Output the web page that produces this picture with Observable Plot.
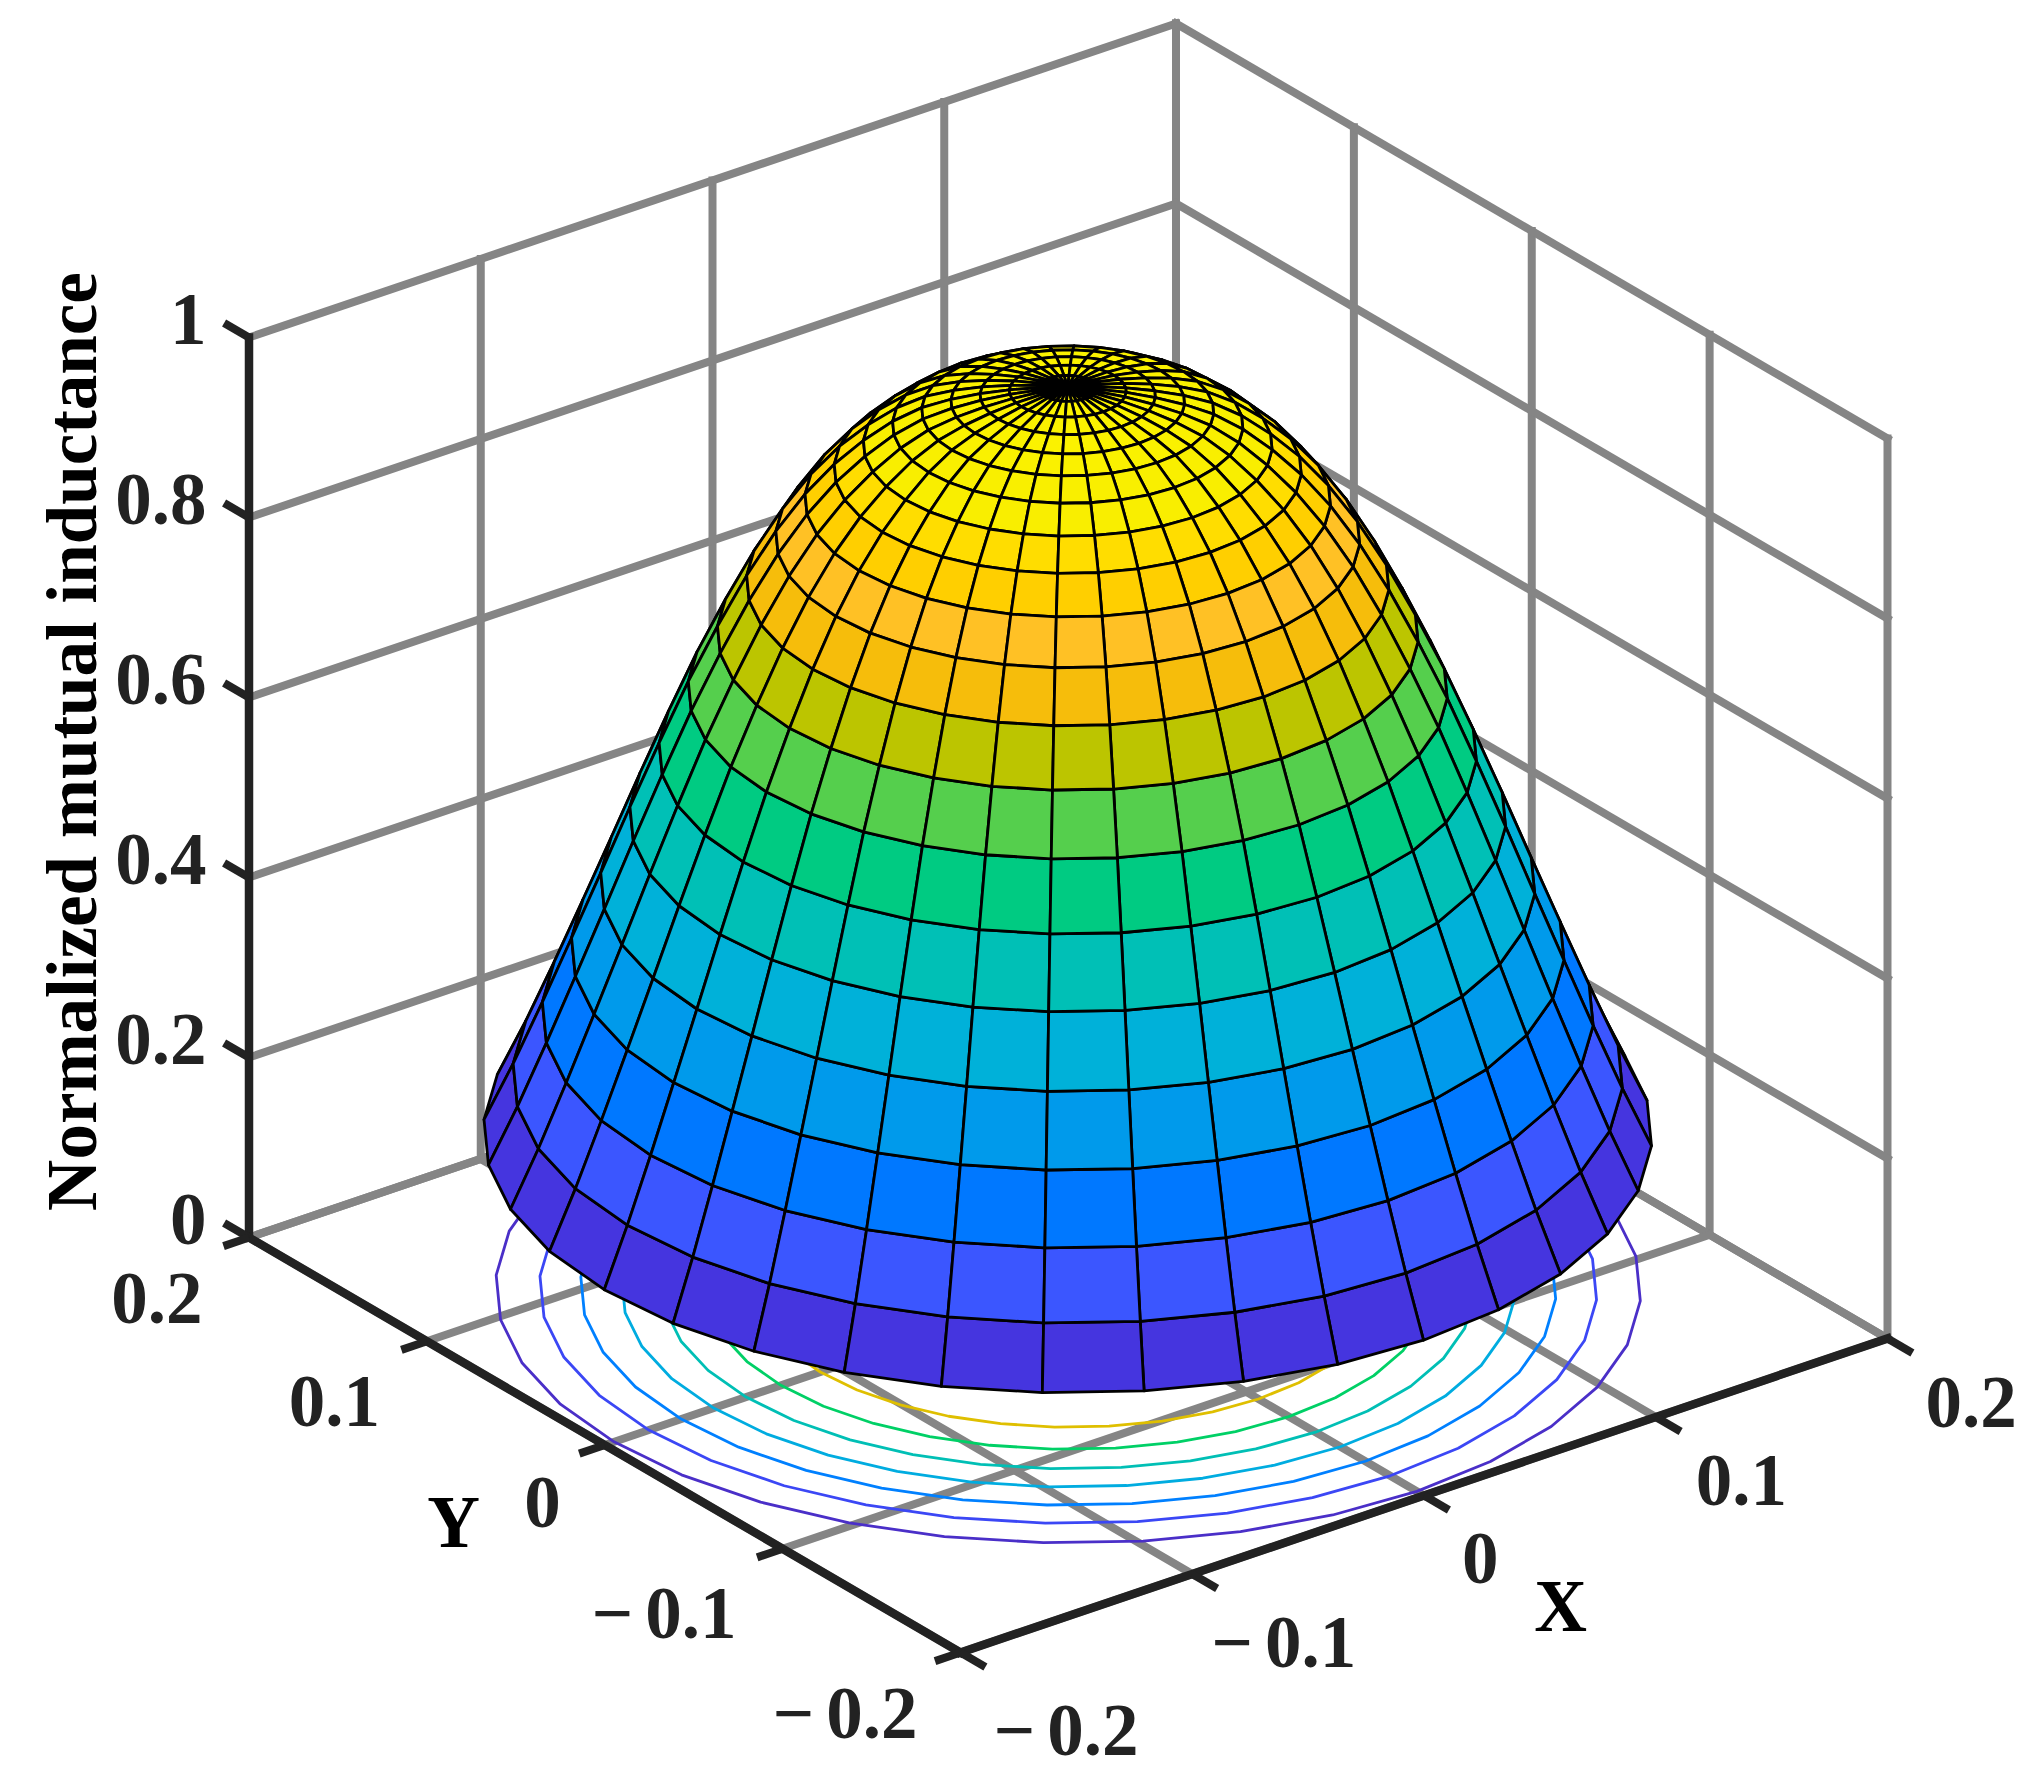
<!DOCTYPE html>
<html>
<head>
<meta charset="utf-8">
<style>html,body{margin:0;padding:0;background:#fff}svg{display:block}</style>
<script src="https://cdn.jsdelivr.net/npm/d3@7"></script>
<script src="https://cdn.jsdelivr.net/npm/@observablehq/plot@0.6"></script>
</head>
<body>
<div id="chart"></div>
<script>
// ---- data ----
const xTicks = [-0.2, -0.1, 0, 0.1, 0.2];
const yTicks = [-0.2, -0.1, 0, 0.1, 0.2];
const zTicks = [0, 0.2, 0.4, 0.6, 0.8, 1];
const xTickLabels = ["−\u200A\u200A0.2", "−\u200A\u200A0.1", "0", "0.1", "0.2"];
const yTickLabels = ["−\u200A\u200A0.2", "−\u200A\u200A0.1", "0", "0.1", "0.2"];
const zTickLabels = ["0", "0.2", "0.4", "0.6", "0.8", "1"];
const angles = [0,10,20,30,40,50,60,70,80,90,100,110,120,130,140,150,160,170,180,190,200,210,220,230,240,250,260,270,280,290,300,310,320,330,340,350];
const ringRadius = [0,0.01,0.02,0.03,0.04,0.05,0.06,0.07,0.08,0.09,0.10,0.11,0.12,0.13,0.14,0.15,0.16,0.17,0.18,0.19,0.20];
const ringHeight = [1,0.999,0.996,0.991,0.984,0.974,0.958,0.936,0.909,0.875,0.833,0.783,0.726,0.664,0.595,0.523,0.449,0.376,0.304,0.235,0.172];
const bandColors = ["#fbf200","#fbf200","#fbf200","#fbf200","#faf100","#f9ef00","#f9ee00","#ffdd00","#ffcf00","#ffc125","#f6bd0b","#bcc500","#55cf4d","#00cb82","#00c0b6","#00b1d9","#009aeb","#0078ff","#3b56ff","#4535df"];
const contourLevels = [0.2,0.3,0.4,0.5,0.6,0.7,0.8];
const contourRadius = [0.196,0.181,0.167,0.153,0.139,0.124,0.107];
const contourColors = ["#4a2fc8","#3b47f5","#0080ff","#00ace0","#00bfb5","#00d066","#dfbf00"];

// ---- orthographic view of the 3-D box ----
const sx = (x, y) => 1067.75 + 2317.5 * x - 1778.75 * y;
const sy = (x, y, z) => 1287.5 - 785 * x - 1037.5 * y - 900 * z;
const depth = (x, y, z) => -1598 * x - 2076 * y + 443 * z;
const rad = (a) => a * Math.PI / 180;
const ptX = (r, a) => r * Math.cos(rad(a));
const ptY = (r, a) => r * Math.sin(rad(a));

// surface quads, painter-sorted
const quads = [];
for (let i = 0; i < ringRadius.length - 1; ++i) {
  for (let j = 0; j < angles.length; ++j) {
    const a0 = angles[j], a1 = angles[j] + 10;
    const r0 = ringRadius[i], r1 = ringRadius[i + 1], z0 = ringHeight[i], z1 = ringHeight[i + 1];
    const rm = (r0 + r1) / 2, am = (a0 + a1) / 2;
    quads.push({band: i, d: depth(ptX(rm, am), ptY(rm, am), (z0 + z1) / 2), r0, r1, z0, z1, a0, a1});
  }
}
quads.sort((p, q) => p.d - q.d);
const quadRows = quads.flatMap((q, id) => [q.a0, q.a1].map((a) => ({
  id, band: q.band,
  x1: sx(ptX(q.r0, a), ptY(q.r0, a)),
  y1: sy(ptX(q.r0, a), ptY(q.r0, a), q.z0),
  x2: sx(ptX(q.r1, a), ptY(q.r1, a)),
  y2: sy(ptX(q.r1, a), ptY(q.r1, a), q.z1)
})));

// grid + axes as 3-D segments
const seg = (a, b) => ({x1: sx(a[0], a[1]), y1: sy(...a), x2: sx(b[0], b[1]), y2: sy(...b)});
const grid = [
  ...xTicks.map((x) => seg([x, 0.2, 0], [x, 0.2, 1])),
  ...zTicks.map((z) => seg([-0.2, 0.2, z], [0.2, 0.2, z])),
  ...yTicks.map((y) => seg([0.2, y, 0], [0.2, y, 1])),
  ...zTicks.map((z) => seg([0.2, -0.2, z], [0.2, 0.2, z])),
  ...xTicks.map((x) => seg([x, -0.2, 0], [x, 0.2, 0])),
  ...yTicks.map((y) => seg([-0.2, y, 0], [0.2, y, 0]))
];
const axes = [
  seg([-0.2, 0.2, 0], [-0.2, 0.2, 1]),
  seg([-0.2, -0.2, 0], [-0.2, 0.2, 0]),
  seg([-0.2, -0.2, 0], [0.2, -0.2, 0])
];
const ticks = [
  ...zTicks.map((z) => seg([-0.2, 0.2, z], [-0.2, 0.2 + 0.014, z])),
  ...yTicks.map((y) => seg([-0.2, y, 0], [-0.2 - 0.011, y, 0])),
  ...xTicks.map((x) => seg([x, -0.2, 0], [x, -0.2 - 0.014, 0]))
];

// contour polygons on the floor
const contourRows = contourLevels.flatMap((level, k) =>
  [...angles, 360].map((a) => ({
    level,
    x: sx(ptX(contourRadius[k], a), ptY(contourRadius[k], a)),
    y: sy(ptX(contourRadius[k], a), ptY(contourRadius[k], a), 0)
  }))
);

// small per-label layout nudges (MATLAB places tick labels slightly unevenly)
const xNudge = [[33,79],[19,69.5],[38,64],[40,64.5],[38,65]];
const yNudge = [[-43,62],[-46,66],[-44,58.5],[-47,61],[-46.5,62]];
const zLab = zTicks.map((z, i) => ({t: zTickLabels[i], x: sx(-0.2, 0.2), y: sy(-0.2, 0.2, z)}));
const yLab = yTicks.map((y, i) => ({t: yTickLabels[i], x: sx(-0.2, y) + yNudge[i][0], y: sy(-0.2, y, 0) + yNudge[i][1]}));
const xLab = xTicks.map((x, i) => ({t: xTickLabels[i], x: sx(x, -0.2) + xNudge[i][0], y: sy(x, -0.2, 0) + xNudge[i][1]}));

const font = "'Liberation Serif','Times New Roman',serif";
const fs = 73;
const ink = "#222222";

const plot = Plot.plot({
  width: 2041, height: 1790, margin: 0,
  style: {background: "#fff"},
  x: {domain: [0, 2041], range: [0, 2041], axis: null},
  y: {domain: [0, 1790], range: [0, 1790], axis: null},
  color: {type: "ordinal", domain: d3.range(bandColors.length), range: bandColors},
  marks: [
    Plot.link(grid, {x1: "x1", y1: "y1", x2: "x2", y2: "y2", stroke: "#858585", strokeWidth: 8, strokeLinecap: "square"}),
    Plot.link(axes, {x1: "x1", y1: "y1", x2: "x2", y2: "y2", stroke: ink, strokeWidth: 8.5, strokeLinecap: "square"}),
    Plot.link(ticks, {x1: "x1", y1: "y1", x2: "x2", y2: "y2", stroke: ink, strokeWidth: 8, strokeLinecap: "butt"}),
    Plot.line(contourRows, {x: "x", y: "y", z: "level", stroke: (d) => contourColors[contourLevels.indexOf(d.level)], strokeWidth: 2.8, curve: "linear"}),
    Plot.area(quadRows, {x1: "x1", y1: "y1", x2: "x2", y2: "y2", z: "id", fill: "band", stroke: "#000", strokeWidth: 2.8, strokeLinejoin: "round", curve: "linear"}),
    Plot.text(zLab, {x: "x", y: "y", text: "t", dx: -42.5, dy: -17, textAnchor: "end", fontFamily: font, fontWeight: "bold", fontSize: fs, fill: ink}),
    Plot.text(yLab, {x: "x", y: "y", text: "t", textAnchor: "end", fontFamily: font, fontWeight: "bold", fontSize: fs, fill: ink}),
    Plot.text(xLab, {x: "x", y: "y", text: "t", textAnchor: "start", fontFamily: font, fontWeight: "bold", fontSize: fs, fill: ink}),
    Plot.text(["Y"], {x: () => 453, y: () => 1523, text: (d) => d, fontFamily: font, fontWeight: "bold", fontSize: 73, fill: "#000"}),
    Plot.text(["X"], {x: () => 1560, y: () => 1607, text: (d) => d, fontFamily: font, fontWeight: "bold", fontSize: 73, fill: "#000"}),
    Plot.text(["Normalized mutual inductance"], {x: () => 73, y: () => 741, text: (d) => d, rotate: -90, fontFamily: font, fontWeight: "bold", fontSize: 71, fill: "#000"})
  ]
});
document.getElementById("chart").append(plot);
</script>
</body>
</html>
